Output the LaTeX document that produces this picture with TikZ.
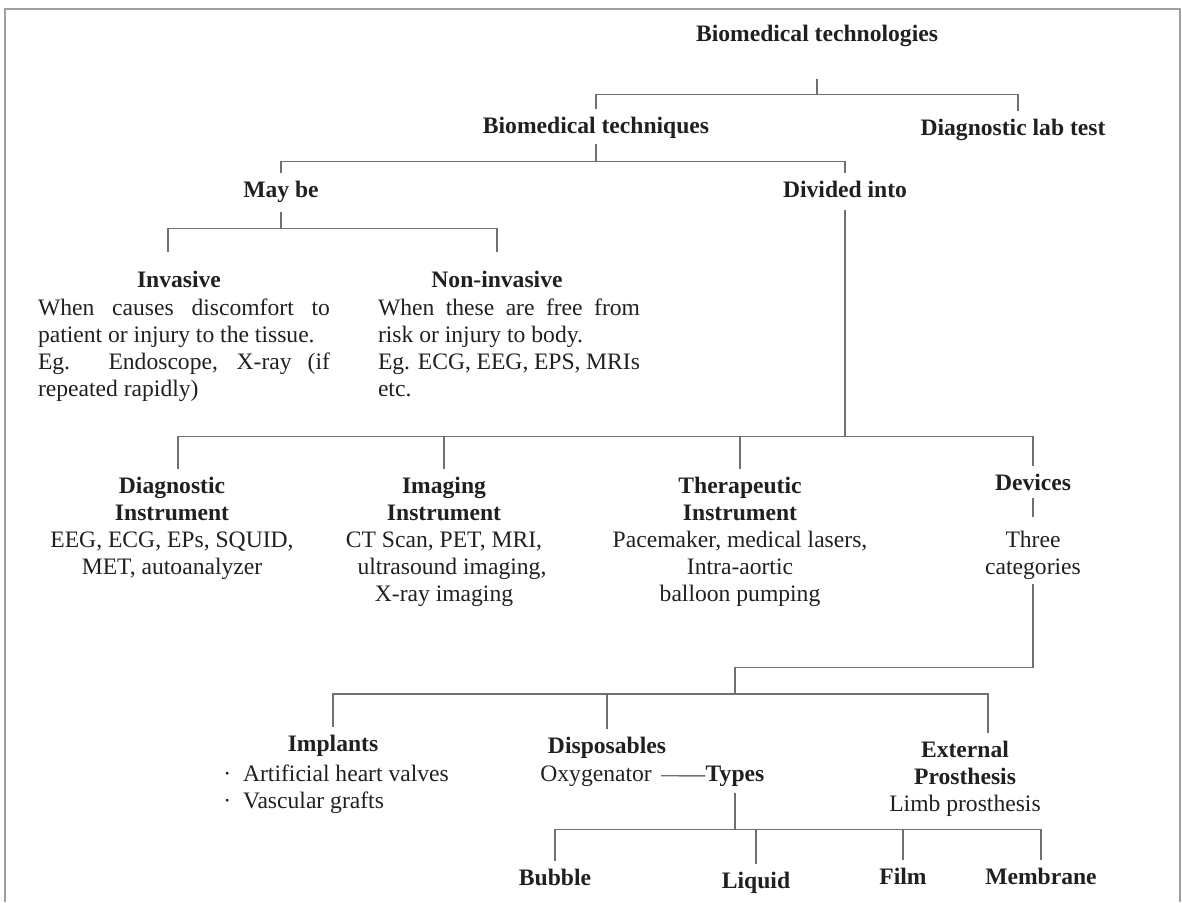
\documentclass[tikz,border=0pt]{standalone}
\usepackage{fontspec}
\setmainfont{Liberation Serif}
\usepackage{tikz}
\usetikzlibrary{positioning}
\definecolor{linegray}{RGB}{112,112,112}
\definecolor{framegray}{RGB}{160,160,160}
\definecolor{ink}{RGB}{35,31,32}
\newcommand{\chartfont}{\fontsize{11.8}{13.5}\selectfont}

\begin{document}
\begin{tikzpicture}[x=0.5pt,y=-0.5pt,
  every node/.style={inner sep=0pt,text=ink,font=\chartfont},
  head/.style={font=\chartfont\bfseries},
  body/.style={align=center},
  link/.style={draw=linegray,line width=0.7pt,shorten >=4pt}]
  \useasboundingbox (0,0) rectangle (1182,902);

  % Frame
  \draw[framegray,line width=1pt] (5,902) -- (5,9) -- (1180,9) -- (1180,902);

  % Top levels
  \node[head,anchor=north] (tech) at (817,25) {Biomedical technologies};
  \node[head,anchor=north] (bmt) at (596,117) {Biomedical techniques};
  \node[head,anchor=north] (lab) at (1013,119) {Diagnostic lab test};
  \node[head,anchor=north] (maybe) at (281,181) {May be};
  \node[head,anchor=north] (div) at (845,181) {Divided into};

  % Invasive / non-invasive
  \node[head,anchor=north] (inv) at (179,271) {Invasive};
  \node[anchor=north,text width=146pt,align=justify] (invtxt) at (184,298)
    {When causes discomfort to\linebreak patient or injury to the tissue.\newline
     Eg. Endoscope, X-ray (if\linebreak repeated rapidly)};
  \node[head,anchor=north] (noninv) at (497,271) {Non-invasive};
  \node[anchor=north,text width=131pt,align=justify] (noninvtxt) at (509,298)
    {When these are free from\linebreak risk or injury to body.\newline
     Eg. ECG, EEG, EPS, MRIs\newline etc.};

  % Instruments and devices
  \node[body,anchor=north] (diag) at (172,477)
    {\textbf{Diagnostic}\\\textbf{Instrument}\\EEG, ECG, EPs, SQUID,\\MET, autoanalyzer};
  \node[body,anchor=north] (img) at (444,477)
    {\textbf{Imaging}\\\textbf{Instrument}\\CT Scan, PET, MRI,\\\hspace*{8pt}ultrasound imaging,\\X-ray imaging};
  \node[body,anchor=north] (ther) at (740,477)
    {\textbf{Therapeutic}\\\textbf{Instrument}\\Pacemaker, medical lasers,\\Intra-aortic\\balloon pumping};
  \node[head,anchor=north] (dev) at (1033,474) {Devices};
  \node[body,anchor=north] (cat) at (1033,531) {Three\\categories};

  % Device categories
  \node[head,anchor=north] (imp) at (333,735) {Implants};
  \node[anchor=north west,align=left] (implist) at (223,764)
    {·\enspace Artificial heart valves\\·\enspace Vascular grafts};
  \node[head,anchor=north] (disp) at (607,737) {Disposables};
  \node[anchor=base west] (oxy) at (540,781) {Oxygenator};
  \node[head,anchor=base] (types) at (735,781) {Types};
  \node[body,anchor=north] (ext) at (965,741)
    {\textbf{External}\\\textbf{Prosthesis}\\Limb prosthesis};

  % Oxygenator types
  \node[head,anchor=north] (bub) at (555,869) {Bubble};
  \node[head,anchor=north] (liq) at (756,872) {Liquid};
  \node[head,anchor=north] (film) at (903,868) {Film};
  \node[head,anchor=north] (mem) at (1041,868) {Membrane};

  % Connectors
  \draw[link,shorten <=16pt] (tech.south) -- ++(0,47) -| (bmt.north);
  \draw[link,shorten <=16pt] (tech.south) -- ++(0,47) -| ([xshift=2.5pt]lab.north);
  \draw[link,shorten <=2.5pt] (bmt.south) -- ++(0,22) -| (maybe.north);
  \draw[link,shorten <=2.5pt] (bmt.south) -- ++(0,22) -| (div.north);
  \draw[link,shorten <=4.5pt,shorten >=9.5pt] (maybe.south) -- ++(0,25) -| ([xshift=-5.5pt]inv.north);
  \draw[link,shorten <=4.5pt,shorten >=9.5pt] (maybe.south) -- ++(0,25) -| (noninv.north);
  \foreach \n/\s in {diag/3pt,img/0pt,ther/0pt,dev/0pt}
    \draw[link,shorten <=6pt] (div.south) -- ++(0,238) -| ([xshift=\s]\n.north);
  \draw[link,shorten <=3.5pt,shorten >=7pt] (dev.south) -- (cat.north);
  \coordinate (fork) at (735,694);
  \draw[link,shorten <=2pt,shorten >=0pt] (cat.south) -- ++(0,87) -| (fork);
  \foreach \n/\s in {imp/0pt,disp/0pt,ext/11.5pt}
    \draw[link] (fork) -| ([xshift=\s]\n.north);
  \draw[link,shorten <=4.5pt,shorten >=0pt] (oxy.east) -- (types.west);
  \foreach \n in {bub,liq,film,mem}
    \draw[link,shorten <=3pt] (types.south) -- ++(0,43) -| (\n.north);
\end{tikzpicture}
\end{document}
